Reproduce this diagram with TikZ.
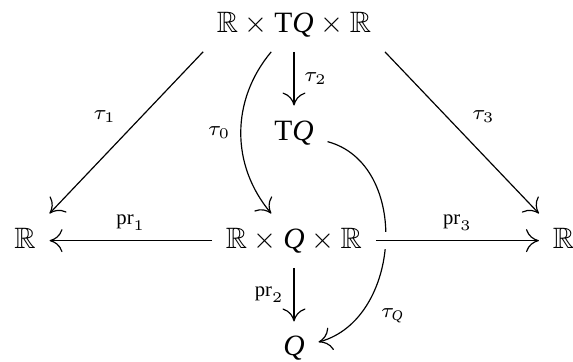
\documentclass[tikz,border=0pt]{standalone}
\usepackage{amssymb}
\usepackage{fontspec}
\setmainfont{Liberation Serif}
\usetikzlibrary{arrows.meta}

\begin{document}
\begin{tikzpicture}[
  obj/.style={inner sep=4.5pt,text height=0.7em,text depth=0.2em,anchor=base},
  arr/.style={-{Computer Modern Rightarrow[length=4.4pt,width=7.8pt]}},
  lbl/.style={font=\scriptsize}]
  \useasboundingbox (-0.298,-0.071) rectangle (6.527,4.240);
  % objects
  \node[obj] (top) at (3.204,3.858) {$\mathbb{R}\times\mathrm{T}\mathit{Q}\times\mathbb{R}$};
  \node[obj] (tq) at (3.204,2.572) {$\mathrm{T}\mathit{Q}$};
  \node[obj] (l) at (0,1.286) {$\mathbb{R}$};
  \node[obj] (mid) at (3.204,1.286) {$\mathbb{R}\times\mathit{Q}\times\mathbb{R}$};
  \node[obj] (r) at (6.413,1.286) {$\mathbb{R}$};
  \node[obj] (q) at (3.204,0) {$\mathit{Q}$};
  % maps out of the top
  \draw[arr] (top.south west) -- node[lbl,above left]{$\tau_1$} (l.north east);
  \draw[arr] (top.south east) -- node[lbl,above right]{$\tau_3$} (r.north west);
  \draw[arr] (top) -- node[lbl,right]{$\tau_2$} (tq);
  \draw[arr] (top.-130) to[out=-130,in=130] node[lbl,left]{$\tau_0$} (mid.130);
  \draw[arr] (tq) to[out=-15,in=15,looseness=1.1] node[lbl,pos=0.72,below right]{$\tau_{\mathit{Q}}$} (q);
  % projections
  \draw[arr] (mid) -- node[lbl,above]{$\mathrm{pr}_1$} (l);
  \draw[arr] (mid) -- node[lbl,left]{$\mathrm{pr}_2$} (q);
  \draw[arr,preaction={draw,white,line width=6pt,-}] (mid) -- node[lbl,above]{$\mathrm{pr}_3$} (r);
\end{tikzpicture}
\end{document}
